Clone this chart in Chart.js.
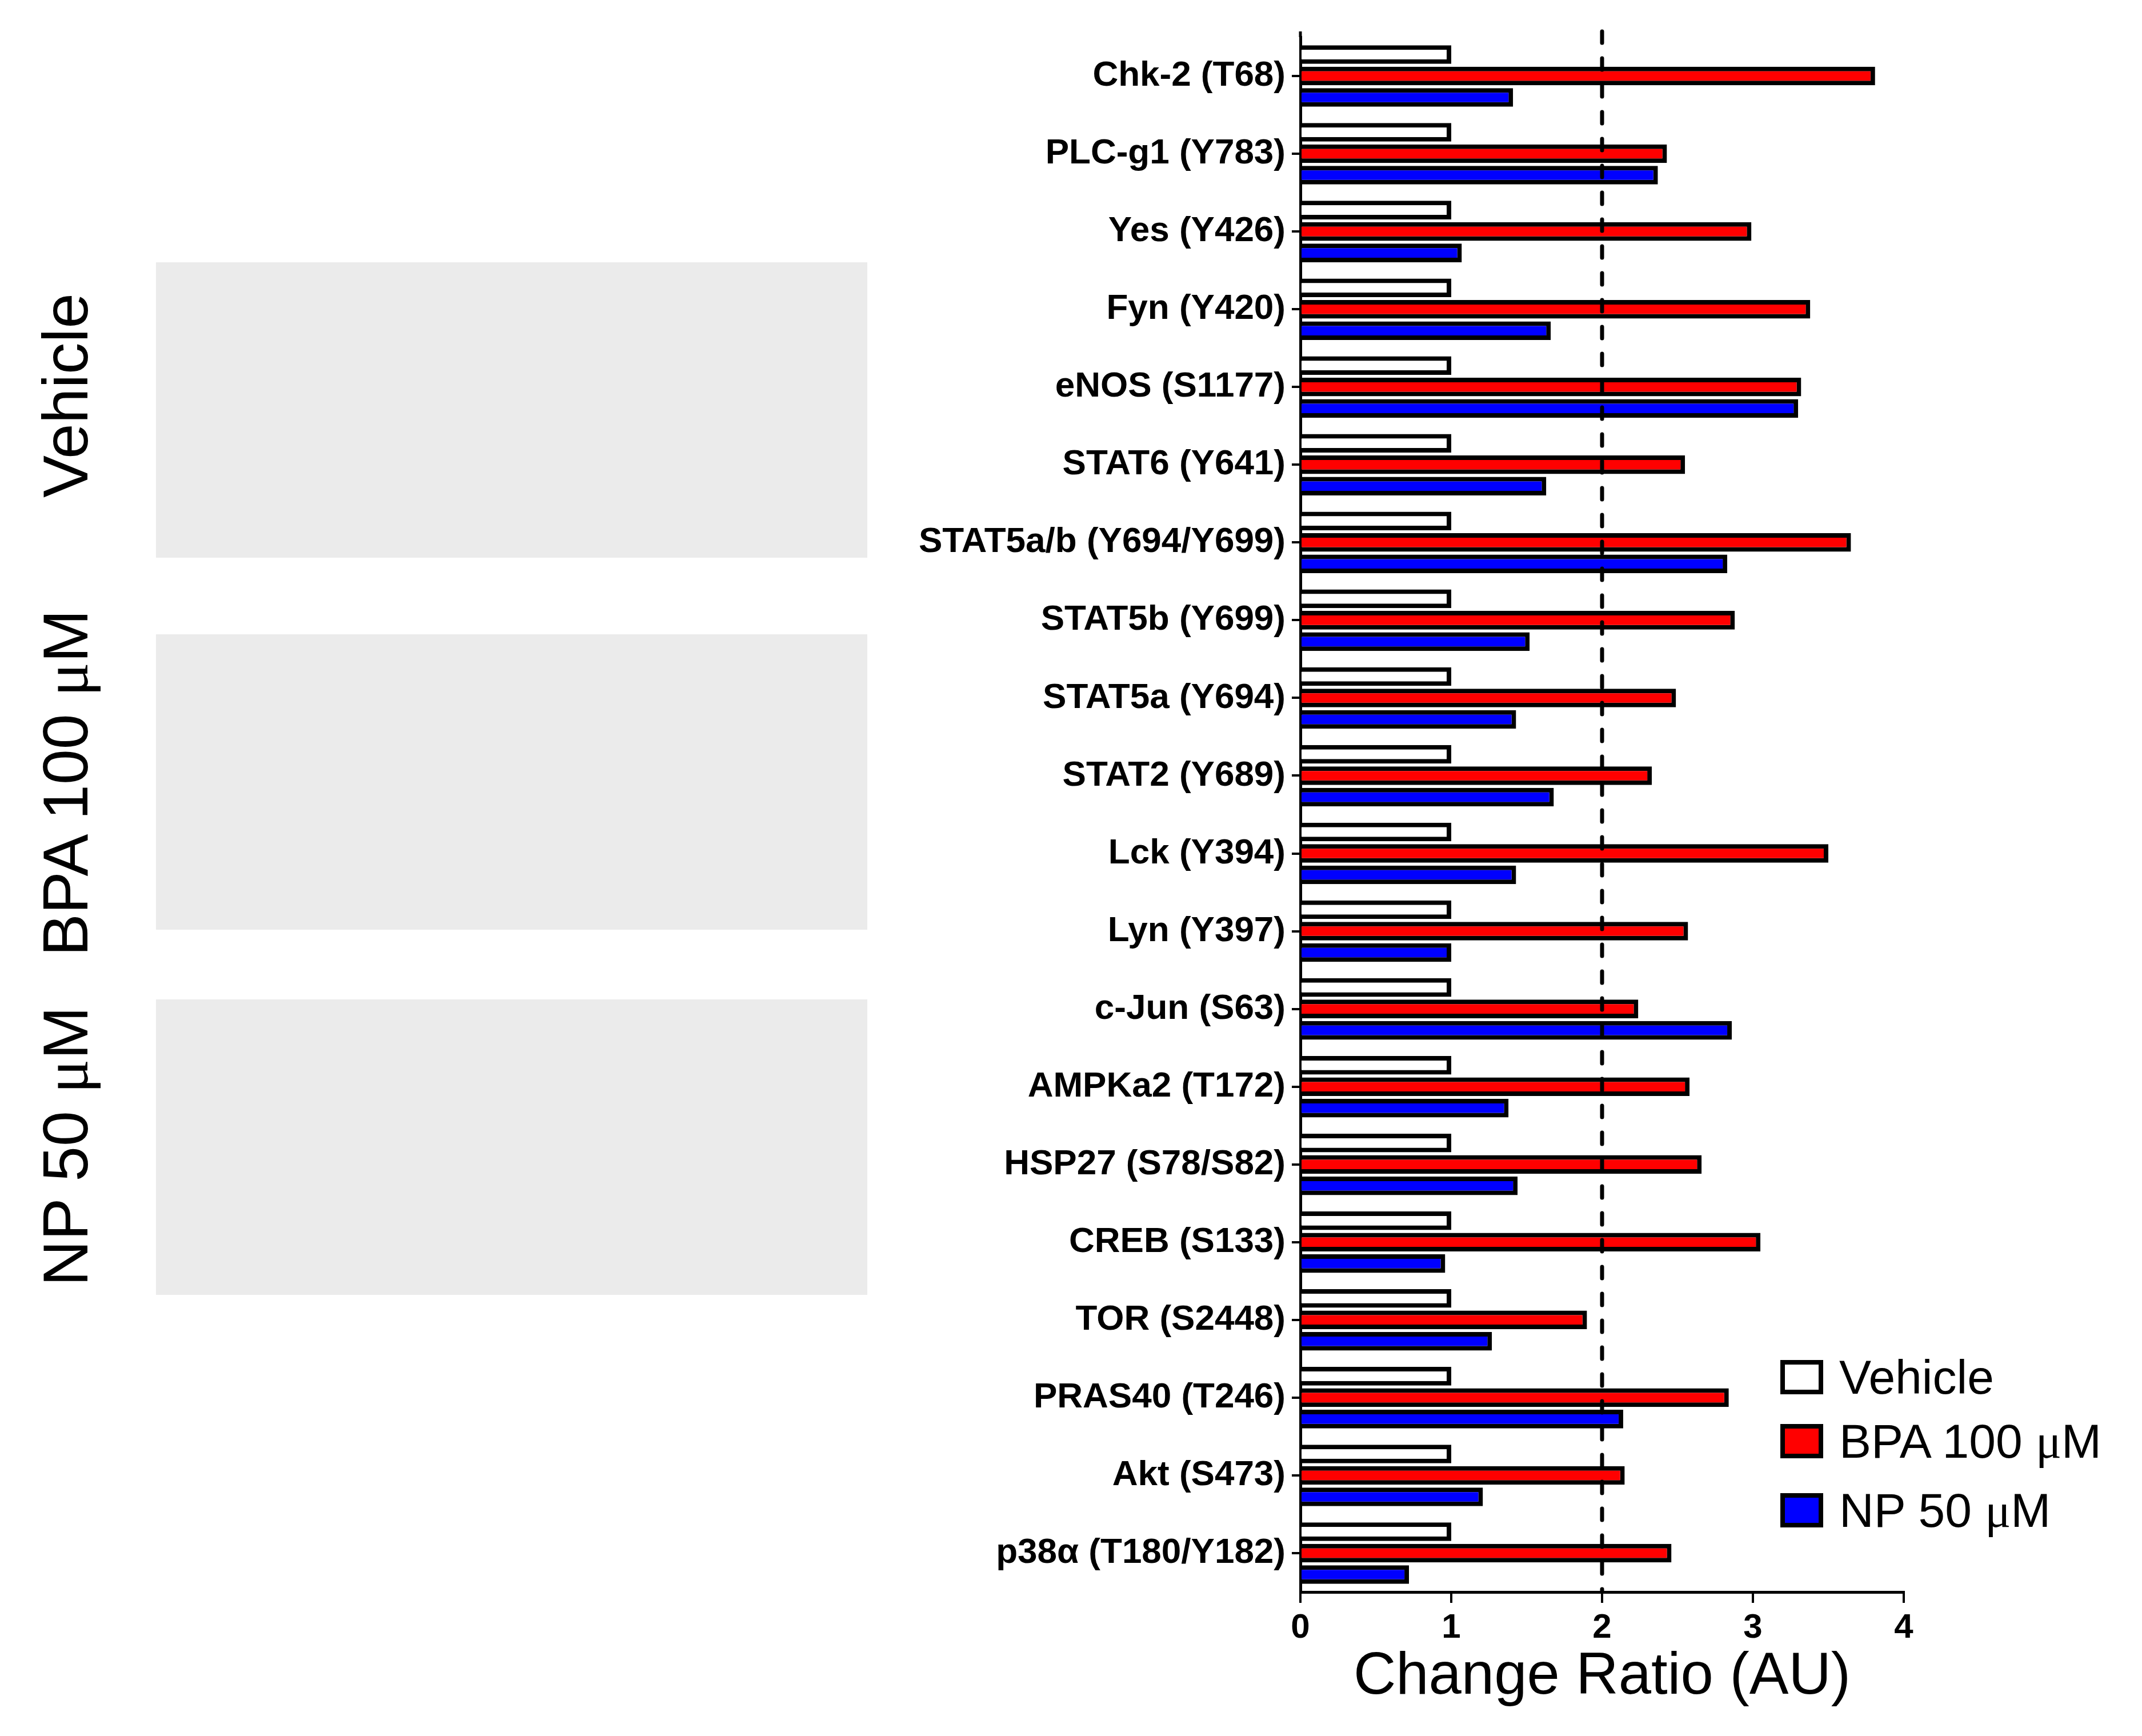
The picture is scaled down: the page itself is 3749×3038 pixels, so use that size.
<!DOCTYPE html>
<html>
<head>
<meta charset="utf-8">
<script src="https://cdn.jsdelivr.net/npm/chart.js@4.4.1/dist/chart.umd.min.js"></script>
<style>
  html, body { margin: 0; padding: 0; background: #fff; }
  body { width: 3749px; height: 3038px; position: relative; overflow: hidden; font-family: 'Liberation Sans', Arial, sans-serif; }
  #chart { position: absolute; left: 0; top: 0; }
  .blot { position: absolute; left: 273px; width: 1245px; height: 517px; background: #ebebeb; }
  .side { position: absolute; left: 115px; font-size: 111px; white-space: nowrap; transform: translate(-50%, -50%) rotate(-90deg); }
  .greek { font-family: 'Liberation Serif', 'DejaVu Serif', serif; }
  .box { position: absolute; left: 3116px; width: 75px; height: 60px; box-sizing: border-box; border: 8px solid #000; }
  .txt { position: absolute; left: 3219px; font-size: 84px; line-height: 1; white-space: nowrap; transform: translateY(-50%); }
</style>
</head>
<body>
<div class="blot" style="top:459px"></div>
<div class="blot" style="top:1110px"></div>
<div class="blot" style="top:1749px"></div>
<div class="side" style="top:692px">Vehicle</div>
<div class="side" style="top:1370px">BPA 100 <span class="greek">μ</span>M</div>
<div class="side" style="top:2006px">NP 50 <span class="greek">μ</span>M</div>
<canvas id="chart" width="3749" height="3038"></canvas>
<div id="legend"></div>
<script>
const proteins = ['Chk-2 (T68)', 'PLC-g1 (Y783)', 'Yes (Y426)', 'Fyn (Y420)', 'eNOS (S1177)',
  'STAT6 (Y641)', 'STAT5a/b (Y694/Y699)', 'STAT5b (Y699)', 'STAT5a (Y694)', 'STAT2 (Y689)',
  'Lck (Y394)', 'Lyn (Y397)', 'c-Jun (S63)', 'AMPKa2 (T172)', 'HSP27 (S78/S82)',
  'CREB (S133)', 'TOR (S2448)', 'PRAS40 (T246)', 'Akt (S473)', 'p38α (T180/Y182)'];

const vehicle = [1, 1, 1, 1, 1, 1, 1, 1, 1, 1, 1, 1, 1, 1, 1, 1, 1, 1, 1, 1];
const bpa = [3.81, 2.43, 2.99, 3.38, 3.32, 2.55, 3.65, 2.88, 2.49, 2.33,
  3.50, 2.57, 2.24, 2.58, 2.66, 3.05, 1.90, 2.84, 2.15, 2.46];
const np = [1.41, 2.37, 1.07, 1.66, 3.30, 1.63, 2.83, 1.52, 1.43, 1.68,
  1.43, 1.00, 2.86, 1.38, 1.44, 0.96, 1.27, 2.14, 1.21, 0.72];

const seriesNames = ['Vehicle', 'BPA 100 μM', 'NP 50 μM'];
const xTicks = [0, 1, 2, 3, 4];
const cutoff = 2;

// dashed line at the 2-fold cutoff (over the bars) + the little axis overhang at the top
const cutoffLine = {
  id: 'cutoffLine',
  afterDatasetsDraw(chart) {
    const { ctx, chartArea } = chart;
    const x = chart.scales.x.getPixelForValue(cutoff);
    ctx.save();
    ctx.strokeStyle = '#000';
    ctx.lineWidth = 5;
    ctx.beginPath();
    ctx.moveTo(chartArea.left, chartArea.top - 10);
    ctx.lineTo(chartArea.left, chartArea.top);
    ctx.stroke();

    ctx.lineWidth = 7;
    ctx.lineCap = 'round';
    ctx.setLineDash([20, 27]);
    ctx.beginPath();
    ctx.moveTo(x, chartArea.top - 10);
    ctx.lineTo(x, chartArea.bottom);
    ctx.stroke();
    ctx.restore();
  }
};

const chart = new Chart(document.getElementById('chart'), {
  type: 'bar',
  data: {
    labels: proteins,
    datasets: [
      { label: seriesNames[0], data: vehicle, backgroundColor: '#ffffff', borderColor: '#000', borderWidth: 8 },
      { label: seriesNames[1], data: bpa, backgroundColor: '#ff0000', borderColor: '#000', borderWidth: 8 },
      { label: seriesNames[2], data: np, backgroundColor: '#0000ff', borderColor: '#000', borderWidth: 8 },
    ],
  },
  options: {
    indexAxis: 'y',
    responsive: false,
    animation: false,
    devicePixelRatio: 1,
    categoryPercentage: 0.827,
    barPercentage: 0.867,
    layout: { padding: { top: 65, right: 417, left: 0, bottom: 0 } },
    plugins: { legend: { display: false }, tooltip: { enabled: false } },
    scales: {
      x: {
        min: 0,
        max: 4,
        afterBuildTicks: (s) => { s.ticks = xTicks.map((v) => ({ value: v })); },
        afterFit: (s) => { s.height = 252; },
        grid: { drawOnChartArea: false, color: '#000', lineWidth: 4, tickLength: 19 },
        border: { color: '#000', width: 5 },
        ticks: { color: '#000', padding: 8, font: { family: 'Liberation Sans', size: 60, weight: 'bold' } },
        title: {
          display: true,
          text: 'Change Ratio (AU)',
          color: '#000',
          padding: { top: 0, bottom: 41 },
          font: { family: 'Liberation Sans', size: 103 },
        },
      },
      y: {
        afterFit: (s) => { s.width = 2276; },
        grid: { drawOnChartArea: false, offset: false, color: '#000', lineWidth: 4, tickLength: 15 },
        border: { color: '#000', width: 5 },
        ticks: { color: '#000', padding: 11, font: { family: 'Liberation Sans', size: 62, weight: 'bold' } },
      },
    },
  },
  plugins: [cutoffLine],
});

// legend inside the plot, built from the datasets
const legend = document.getElementById('legend');
const rowCenters = [2410, 2522, 2643];
chart.data.datasets.forEach((ds, i) => {
  const box = document.createElement('div');
  box.className = 'box';
  box.style.top = (rowCenters[i] - 30) + 'px';
  box.style.background = ds.backgroundColor;
  const txt = document.createElement('div');
  txt.className = 'txt';
  txt.style.top = rowCenters[i] + 'px';
  txt.innerHTML = ds.label.replace('μ', '<span class="greek">μ</span>');
  legend.appendChild(box);
  legend.appendChild(txt);
});
</script>
</body>
</html>
